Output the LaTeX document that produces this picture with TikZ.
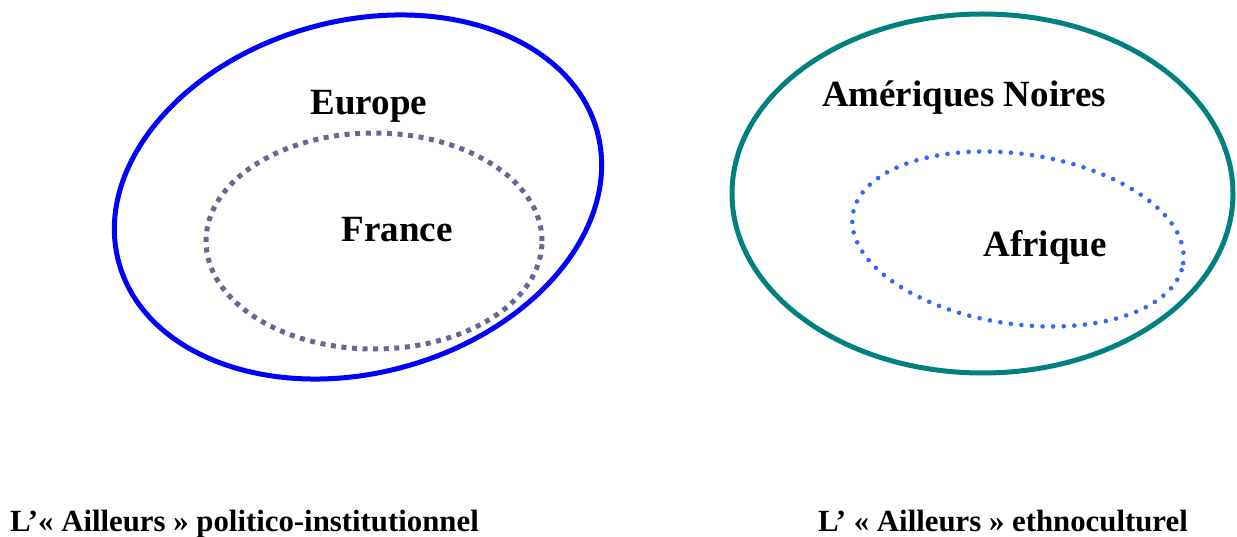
\documentclass[tikz,border=0pt]{standalone}
\usepackage{fontspec}
\setmainfont{Liberation Serif}
\definecolor{eublue}{RGB}{0,0,255}
\definecolor{frgray}{RGB}{102,102,153}
\definecolor{amteal}{RGB}{0,128,128}
\definecolor{afblue}{RGB}{51,102,255}
\tikzset{
  biglabel/.style={font=\fontsize{37}{42}\selectfont\bfseries, anchor=base, inner sep=0pt},
  caption/.style={font=\fontsize{30.8}{34}\selectfont\bfseries, anchor=base west, inner sep=0pt},
}
\begin{document}
\begin{tikzpicture}[x=1pt,y=-1pt]
\useasboundingbox (0,0) rectangle (1237,537);
% left
\coordinate (ceu) at (358,197);
\draw[eublue, line width=5pt, rotate around={15.4:(ceu)}] (ceu) ellipse [x radius=248pt, y radius=176pt];
\coordinate (cfr) at (374,241);
\draw[frgray, line width=5pt, dash pattern=on 5pt off 5.6pt] (cfr) ellipse [x radius=168pt, y radius=108pt];
\node[biglabel] (europe) at (369,115) {Europe};
\node[biglabel] (france) at (397,242) {France};
% right
\coordinate (cam) at (982.5,193.5);
\draw[amteal, line width=5pt] (cam) ellipse [x radius=250.5pt, y radius=179.5pt];
\coordinate (caf) at (1018,239);
\draw[afblue, line width=4.6pt, line cap=round, dash pattern=on 0pt off 10.6pt, rotate around={-8.3:(caf)}] (caf) ellipse [x radius=167pt, y radius=85pt];
\node[biglabel] (amer) at (964,107) {Amériques Noires};
\node[biglabel] (afr) at (1045,257) {Afrique};
% captions
\node[caption] (cap1) at (10,531) {L’« Ailleurs » politico-institutionnel};
\node[caption] (cap2) at (818,531) {L’ « Ailleurs » ethnoculturel};
\end{tikzpicture}
\end{document}
